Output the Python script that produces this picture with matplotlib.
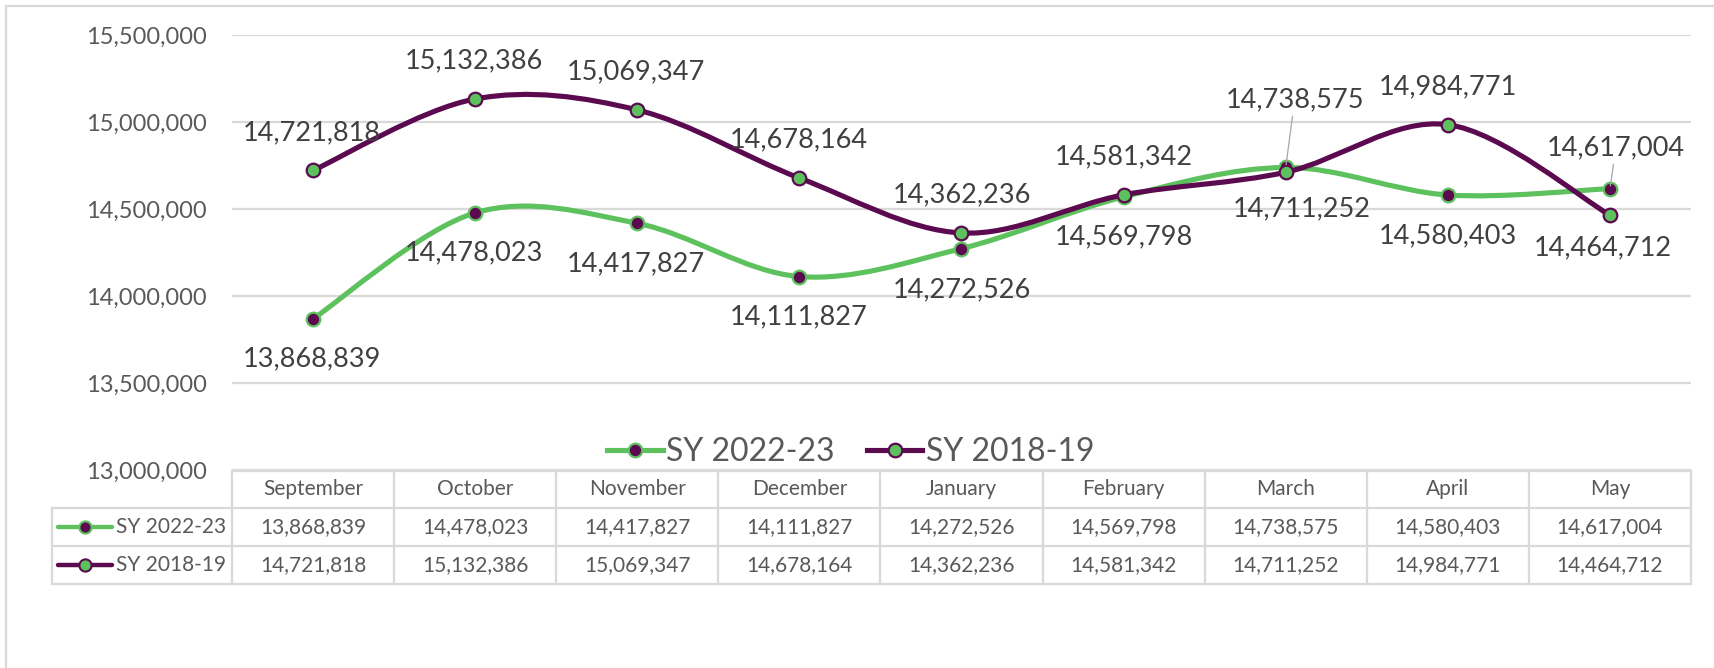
import matplotlib
matplotlib.use("Agg")
import matplotlib.pyplot as plt
import numpy as np
from matplotlib.path import Path
from matplotlib.patches import PathPatch
from matplotlib.lines import Line2D
from matplotlib.ticker import FuncFormatter

plt.rcParams['font.family'] = ['Lato', 'DejaVu Sans']

# data
months = ["September", "October", "November", "December", "January",
          "February", "March", "April", "May"]
sy_2223 = [13868839, 14478023, 14417827, 14111827, 14272526,
           14569798, 14738575, 14580403, 14617004]
sy_1819 = [14721818, 15132386, 15069347, 14678164, 14362236,
           14581342, 14711252, 14984771, 14464712]
series_names = ["SY 2022-23", "SY 2018-19"]

# label offsets in pixels (layout only)
off_2223 = [(-1, -40), (-1, -40), (-1, -41), (-1, -40), (0, -41),
            (0, -40), (9, 68), (0, -41), (6, 41)]
off_1819 = [(-1, 38), (-1, 38), (-1, 38), (-1, 38), (0, 38),
            (0, 38), (16, -37), (0, 38), (-7, -33)]
leader_2223 = [False, False, False, False, False, False, True, False, True]

green = "#5DC15D"
purple = "#5B0A50"
grid_c = "#D9D9D9"
text_c = "#404040"
tick_c = "#595959"

W, H = 1715, 668
fig = plt.figure(figsize=(W / 100, H / 100), dpi=100)
X0, X1, YT, YB = 232, 1691, 35, 470
ax = fig.add_axes([X0 / W, 1 - YB / H, (X1 - X0) / W, (YB - YT) / H])


def smooth_path(xs, ys):
    # excel style smoothing, catmull-rom as cubic beziers
    pts = np.column_stack([np.asarray(xs, float), np.asarray(ys, float)])
    verts = [pts[0]]
    codes = [Path.MOVETO]
    n = len(pts)
    for i in range(n - 1):
        p0 = pts[i - 1] if i > 0 else pts[i]
        p3 = pts[i + 2] if i + 2 < n else pts[i + 1]
        verts += [pts[i] + (pts[i + 1] - p0) / 6,
                  pts[i + 1] - (p3 - pts[i]) / 6,
                  pts[i + 1]]
        codes += [Path.CURVE4] * 3
    return Path(verts, codes)


x = np.arange(len(months))
styles = [(sy_2223, green, purple, off_2223), (sy_1819, purple, green, off_1819)]
for k, (vals, lc, fc, offs) in enumerate(styles):
    ax.add_patch(PathPatch(smooth_path(x, vals), fill=False, edgecolor=lc,
                           lw=3.7, capstyle='round', zorder=3 + k * 2))
    ax.plot(x, vals, 'o', ms=9.8, mfc=fc, mec=lc, mew=1.6, zorder=4 + k * 2)
    for i, v in enumerate(vals):
        kw = {}
        if k == 0 and leader_2223[i]:
            kw['arrowprops'] = dict(arrowstyle='-', color='#A6A6A6', lw=0.9,
                                    shrinkA=1, shrinkB=2)
        ax.annotate(f"{v:,}", xy=(i, v), xytext=offs[i],
                    textcoords='offset pixels', ha='center', va='center',
                    fontsize=19.5, color=text_c, zorder=8, **kw)

ax.set_xlim(-0.5, len(months) - 0.5)
ax.set_ylim(13000000, 15500000)
ax.set_yticks(np.arange(13000000, 15500001, 500000))
ax.yaxis.set_major_formatter(FuncFormatter(lambda v, p: f"{int(v):,}"))
ax.set_xticks([])
ax.tick_params(axis='y', length=0, pad=18, labelsize=17, labelcolor=tick_c)
ax.yaxis.grid(True, color=grid_c, lw=1.6)
ax.set_axisbelow(True)
for s in ax.spines.values():
    s.set_visible(False)

handles = [
    Line2D([], [], color=green, lw=3.7, marker='o', ms=9.8, mfc=purple, mec=green, mew=1.6),
    Line2D([], [], color=purple, lw=3.7, marker='o', ms=9.8, mfc=green, mec=purple, mew=1.6),
]
ax.legend(handles, series_names, loc='center', bbox_to_anchor=(0.424, 0.041),
          ncol=2, frameon=False, prop={'size': 23},
          handlelength=1.75, handletextpad=0.1, columnspacing=1.0,
          labelcolor=tick_c)

# overlay in pixel coordinates for border and data table
ov = fig.add_axes([0, 0, 1, 1])
ov.set_xlim(0, W)
ov.set_ylim(H, 0)
ov.axis('off')

ov.plot([6, 6], [H + 5, 6], color=grid_c, lw=1.6)
ov.plot([6, W + 5], [6, 6], color=grid_c, lw=1.6)

cw = (X1 - X0) / len(months)
rows = [470.7, 508, 546, 584]
LX = 52
tc = dict(color=grid_c, lw=1.6, solid_capstyle='projecting')
ov.plot([X0, X1], [rows[0], rows[0]], **tc)
for r in rows[1:]:
    ov.plot([LX, X1], [r, r], **tc)
for c in range(len(months) + 1):
    ov.plot([X0 + c * cw] * 2, [rows[0], rows[3]], **tc)
ov.plot([LX, LX], [rows[1], rows[3]], **tc)

for c, m in enumerate(months):
    cx = X0 + (c + 0.5) * cw
    ov.text(cx, (rows[0] + rows[1]) / 2, m, ha='center', va='center',
            fontsize=15, color=tick_c)
    ov.text(cx, (rows[1] + rows[2]) / 2, f"{sy_2223[c]:,}", ha='center',
            va='center', fontsize=15, color=tick_c)
    ov.text(cx, (rows[2] + rows[3]) / 2, f"{sy_1819[c]:,}", ha='center',
            va='center', fontsize=15, color=tick_c)

for r, name, lc, fc in [(0, series_names[0], green, purple),
                        (1, series_names[1], purple, green)]:
    cy = (rows[1 + r] + rows[2 + r]) / 2
    ov.plot([58, 112], [cy, cy], color=lc, lw=3.2, solid_capstyle='round')
    ov.plot([85], [cy], 'o', ms=8.8, mfc=fc, mec=lc, mew=1.5)
    ov.text(116, cy, name, ha='left', va='center', fontsize=15, color=tick_c)

fig.savefig("out.png", dpi=100)
